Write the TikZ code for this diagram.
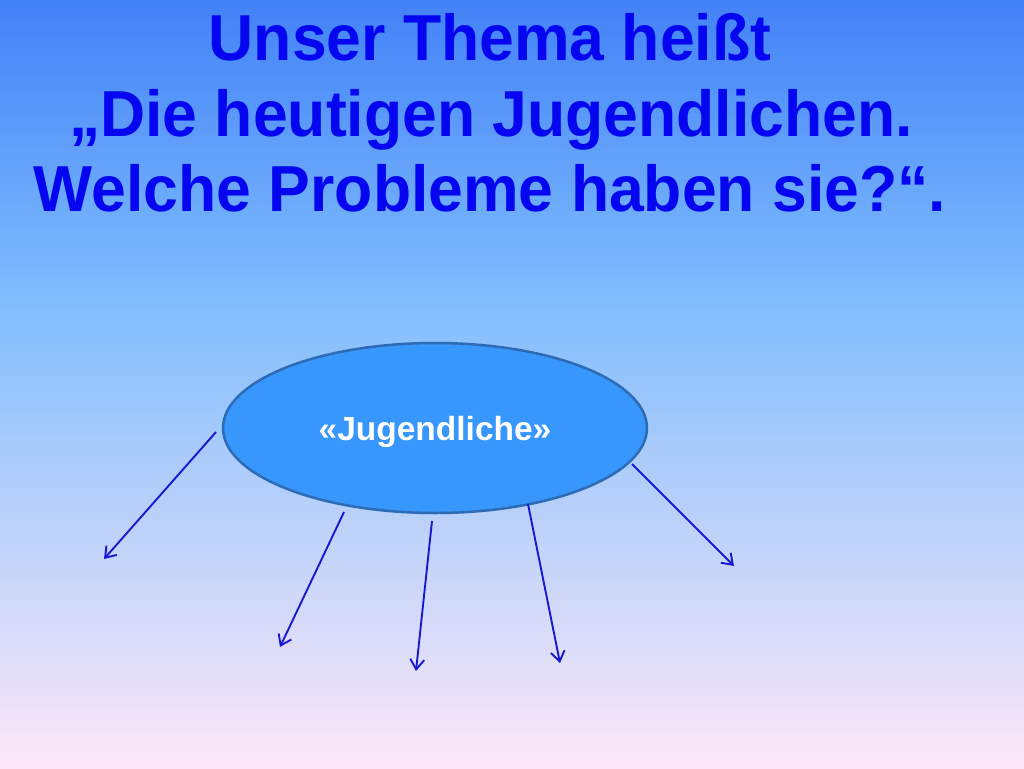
\documentclass[tikz,border=0pt]{standalone}
\usepackage{fontspec}
\setmainfont{Liberation Sans}
\usetikzlibrary{shapes.geometric,arrows.meta}
\definecolor{bgtop}{HTML}{4282F8}
\definecolor{bgmid}{HTML}{80BDFD}
\definecolor{bgbot}{HTML}{FDE8F7}
\definecolor{titleblue}{RGB}{5,5,240}
\definecolor{ellfill}{HTML}{3797FD}
\definecolor{elldraw}{HTML}{2E6BB5}
\definecolor{arrowblue}{RGB}{24,24,210}
\tikzset{
  title/.style={anchor=base,text=titleblue,font=\fontsize{62.5}{76}\selectfont\bfseries,inner sep=0pt},
  mainell/.style={ellipse,fill=ellfill,draw=elldraw,line width=2.5pt,minimum width=424pt,minimum height=170pt,inner sep=0pt},
  branch/.style={draw=arrowblue,line width=1.9pt,-{Straight Barb[length=10pt,width=14pt,line width=1.9pt]}}
}
\newcommand{\tallish}[1]{\scalebox{1}[1.04]{#1}}
\begin{document}
\begin{tikzpicture}[x=1pt,y=-1pt]
\useasboundingbox (0,0) rectangle (1024,768);
\shade[top color=bgtop,bottom color=bgmid] (0,0) rectangle (1024,300.5);
\shade[top color=bgmid,bottom color=bgbot] (0,300) rectangle (1024,768);
\node[title] (t1) at (490,60) {\tallish{Unser Thema heißt}};
\node[title] (t2) at (491,136) {\tallish{„Die heutigen Jugendlichen.}};
\node[title] (t3) at (490,211) {\tallish{Welche Probleme haben sie?“.}};
\node[mainell] (ell) at (435,428) {};
\node[anchor=base,text=white,font=\fontsize{33.5}{40}\selectfont\bfseries,inner sep=0pt] (lab) at (435,440) {«Jugendliche»};
\coordinate (s1) at (216,432); \coordinate (e1) at (104,559);
\coordinate (s2) at (344,512); \coordinate (e2) at (280,647);
\coordinate (s3) at (432,521); \coordinate (e3) at (416,671);
\coordinate (s4) at (528,504); \coordinate (e4) at (560,663);
\coordinate (s5) at (632,464); \coordinate (e5) at (734,566);
\draw[branch] (s1) -- (e1);
\draw[branch] (s2) -- (e2);
\draw[branch] (s3) -- (e3);
\draw[branch] (s4) -- (e4);
\draw[branch] (s5) -- (e5);
\end{tikzpicture}
\end{document}
